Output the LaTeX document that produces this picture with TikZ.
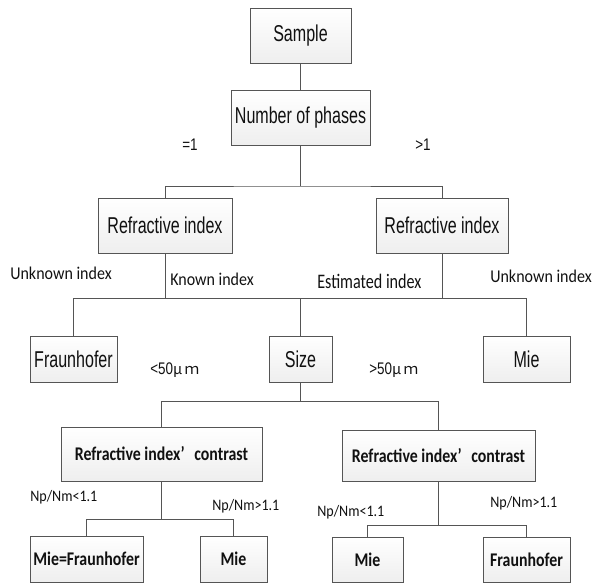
\documentclass[tikz,border=0pt]{standalone}
\usepackage{fontspec}
\usetikzlibrary{shadows}
\newfontfamily\topfont[FakeStretch=0.70]{Liberation Sans}
\newfontfamily\eqfont[FakeStretch=0.80]{Liberation Sans}
\newfontfamily\lblfont[FakeStretch=0.89]{Carlito}
\newfontfamily\estfont[FakeStretch=0.78]{Carlito}
\newfontfamily\npfont[FakeStretch=0.88]{Carlito}
\newfontfamily\boldfont[FakeStretch=0.82]{Carlito}
\newfontfamily\cjkfont{Noto Sans CJK SC}
\definecolor{txt}{HTML}{111111}
\definecolor{ln}{HTML}{555555}
\tikzset{
  box/.style={draw=ln, line width=0.7pt, top color=white, bottom color=gray!13,
    drop shadow={shadow xshift=0.9pt, shadow yshift=-0.9pt, fill=gray!45, opacity=0.6},
    inner sep=0pt, text=txt},
  topbox/.style={box, font=\topfont\fontsize{17.2}{19}\selectfont},
  lowbox/.style={box, font=\boldfont\bfseries\fontsize{14.5}{16}\selectfont},
  conn/.style={draw=ln, line width=0.7pt},
  lbl/.style={anchor=west, inner sep=0pt, text=txt},
  nlbl/.style={lbl, font=\lblfont\fontsize{13.5}{15}\selectfont},
  eqlbl/.style={lbl, font=\eqfont\fontsize{12.6}{14}\selectfont},
  clbl/.style={lbl, font=\npfont\fontsize{12}{14}\selectfont},
}
\begin{document}
\begin{tikzpicture}[x=0.75pt, y=-0.75pt]
\useasboundingbox (0,0) rectangle (592,583);
% boxes
\node[topbox, minimum width=101*0.75pt, minimum height=55*0.75pt] (sample) at (300.5,35.5) {Sample};
\node[topbox, minimum width=139*0.75pt, minimum height=55*0.75pt] (phases) at (300.5,117.5) {Number of phases};
\node[topbox, minimum width=134*0.75pt, minimum height=55*0.75pt] (ri1) at (165,225.5) {Refractive index};
\node[topbox, minimum width=132*0.75pt, minimum height=55*0.75pt] (ri2) at (442,225.5) {Refractive index};
\node[topbox, minimum width=87*0.75pt, minimum height=46*0.75pt] (fr1) at (73.5,359) {Fraunhofer};
\node[topbox, minimum width=63*0.75pt, minimum height=46*0.75pt] (size) at (300.5,359) {Size};
\node[topbox, minimum width=87*0.75pt, minimum height=46*0.75pt] (mie1) at (526.5,359) {Mie};
\node[lowbox, minimum width=201*0.75pt, minimum height=54*0.75pt] (rc1) at (161.5,454) {Refractive index’\hspace{0.5em}contrast};
\node[lowbox, minimum width=193*0.75pt, minimum height=51*0.75pt] (rc2) at (438.5,455.5) {Refractive index’\hspace{0.5em}contrast};
\node[lowbox, minimum width=113*0.75pt, minimum height=46*0.75pt] (mf) at (86.5,559) {Mie=Fraunhofer};
\node[lowbox, minimum width=67*0.75pt, minimum height=46*0.75pt] (mie2) at (233.5,559) {Mie};
\node[lowbox, minimum width=71*0.75pt, minimum height=45*0.75pt] (mie3) at (367.5,559.5) {Mie};
\node[lowbox, minimum width=87*0.75pt, minimum height=45*0.75pt] (fr2) at (526.5,559.5) {Fraunhofer};
% junctions
\coordinate (j1) at (300.5,186);
\coordinate (j2) at (300.5,298);
\coordinate (j3) at (300.5,401);
\coordinate (j4) at (161.5,519);
\coordinate (j5) at (438.5,525);
% connectors
\draw[conn] (sample.south) -- (phases.north);
\draw[conn] (phases.south) -- (j1);
\draw[conn] (ri1.north) |- (j1) -| (ri2.north);
\draw[conn] (fr1.north) |- (j2) -| (mie1.north);
\draw[conn] (size.north) -- (j2);
\draw[conn] (ri1.south) -- (ri1.south |- j2);
\draw[conn] (ri2.south) -- (ri2.south |- j2);
\draw[conn] (size.south) -- (j3);
\draw[conn] (rc1.north) |- (j3) -| (rc2.north);
\draw[conn] (rc1.south) -- (j4);
\draw[conn] (mf.north) |- (j4) -| (mie2.north);
\draw[conn] (rc2.south) -- (j5);
\draw[conn] (mie3.north) |- (j5) -| (fr2.north);
% labels
\node[eqlbl] (l1) at (182,145) {=1};
\node[eqlbl] (l2) at (415,145) {>1};
\node[nlbl] (l3) at (10,273) {Unknown index};
\node[nlbl] (l4) at (170,279) {Known index};
\node[lbl, font=\estfont\fontsize{15.5}{17}\selectfont] (l5) at (317,281) {Estimated index};
\node[nlbl] (l6) at (490,276) {Unknown index};
\node[eqlbl] (l7) at (150,370) {<50{\cjkfont\fontsize{11}{13}\selectfont μ\,ｍ}};
\node[eqlbl] (l8) at (369,370) {>50{\cjkfont\fontsize{11}{13}\selectfont μ\,ｍ}};
\node[clbl] (l9) at (30,497) {Np/Nm<1.1};
\node[clbl] (l10) at (212,506) {Np/Nm>1.1};
\node[clbl] (l11) at (317,512) {Np/Nm<1.1};
\node[clbl] (l12) at (490,503) {Np/Nm>1.1};
\end{tikzpicture}
\end{document}
